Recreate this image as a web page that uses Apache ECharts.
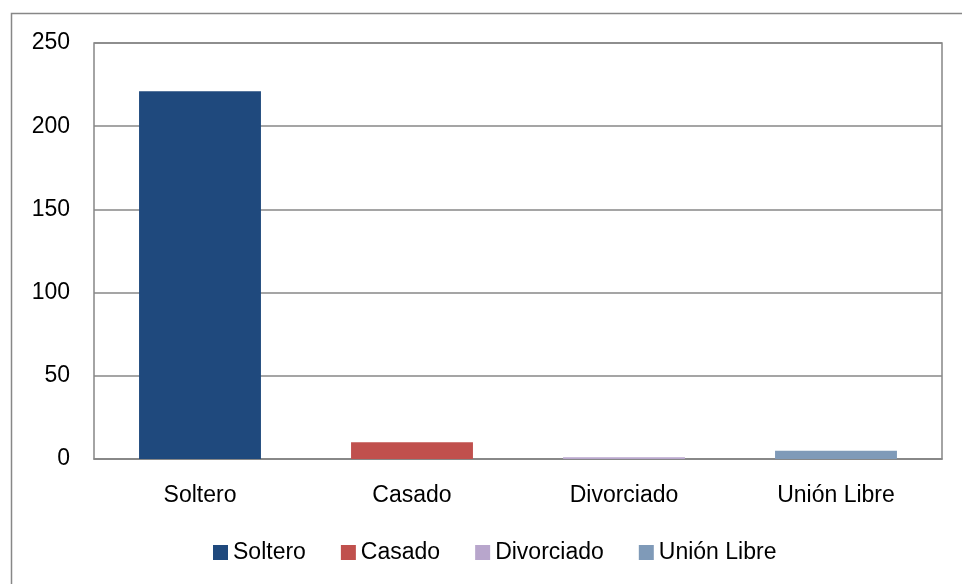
<!DOCTYPE html>
<html><head><meta charset="utf-8">
<script src="https://cdn.jsdelivr.net/npm/echarts@6/dist/echarts.min.js"></script>
<style>html,body{margin:0;padding:0;background:#fff}#c{width:962px;height:584px}</style>
</head><body><div id="c"></div>
<script>
const categories = ['Soltero', 'Casado', 'Divorciado', 'Unión Libre'];
const values = [221, 10, 1, 5];
const colors = ['#1F497D', '#C0504D', '#B8A6CC', '#7F9AB8'];
const yTicks = [0, 50, 100, 150, 200, 250];

const font = '"Liberation Sans", "DejaVu Sans", sans-serif';
const chart = echarts.init(document.getElementById('c'));
const series = categories.map((name, i) => ({
  name: name,
  type: 'bar',
  stack: 'all',
  barWidth: '57.5%',
  data: categories.map((c, j) => j === i ? values[i] : null),
  itemStyle: { color: colors[i] },
  emphasis: { disabled: true }
}));
chart.setOption({
  animation: false,
  graphic: [{ type: 'rect', shape: { x: 11.5, y: 13.5, width: 960, height: 580 },
    style: { fill: 'none', stroke: '#878787', lineWidth: 1.5 }, z: -1 }],
  grid: { left: 94, right: 20, top: 43, bottom: 125, show: true, borderColor: '#878787', borderWidth: 1.5 },
  legend: {
    top: 536, left: 208, itemWidth: 15, itemHeight: 15, itemGap: 35,
    icon: 'rect', textStyle: { fontFamily: font, fontSize: 23, color: '#000', padding: [0,0,0,0] },
    data: categories
  },
  xAxis: {
    type: 'category', data: categories,
    axisLine: { lineStyle: { color: '#878787', width: 1.5 } },
    axisTick: { show: false },
    axisLabel: { fontFamily: font, fontSize: 23, color: '#000', margin: 25 }
  },
  yAxis: {
    type: 'value', min: yTicks[0], max: yTicks[yTicks.length-1], interval: 50,
    axisLine: { show: false }, axisTick: { show: false },
    axisLabel: { fontFamily: font, fontSize: 23, color: '#000', margin: 24 },
    splitLine: { lineStyle: { color: '#878787', width: 1.5 } }
  },
  series: series
});
</script></body></html>
